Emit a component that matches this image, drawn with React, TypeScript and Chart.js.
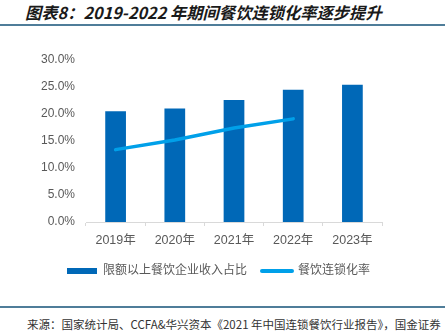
import React, { useEffect, useRef } from "react";
import { Chart, registerables } from "chart.js";

Chart.register(...registerables);

const categories = ["2019年", "2020年", "2021年", "2022年", "2023年"];
const barSeriesName = "限额以上餐饮企业收入占比";
const lineSeriesName = "餐饮连锁化率";
const barValues = [20.5, 21.0, 22.6, 24.5, 25.4];
const lineValues: (number | null)[] = [13.4, 15.2, 17.4, 19.1, null];
const yMin = 0;
const yMax = 30;
const yStep = 5;

const titleText = "图表8：2019-2022 年期间餐饮连锁化率逐步提升";
const sourceText = "来源：国家统计局、CCFA&华兴资本《2021 年中国连锁餐饮行业报告》，国金证券";

const BAR_COLOR = "#0068B7";
const LINE_COLOR = "#00A0E9";
const TEXT_COLOR = "#595959";
const AXIS_COLOR = "#D9D9D9";
const RULE_COLOR = "#4F7D99";
const FONT = "'Liberation Sans', 'Noto Sans CJK SC', sans-serif";

export default function App() {
  const canvasRef = useRef<HTMLCanvasElement | null>(null);

  useEffect(() => {
    if (!canvasRef.current) return;
    const chart = new Chart(canvasRef.current, {
      type: "bar",
      data: {
        labels: categories,
        datasets: [
          {
            type: "bar",
            label: barSeriesName,
            data: barValues,
            backgroundColor: BAR_COLOR,
            borderWidth: 0,
            barPercentage: 0.35,
            categoryPercentage: 1,
            order: 1,
          },
          {
            type: "line",
            label: lineSeriesName,
            data: lineValues,
            borderColor: LINE_COLOR,
            backgroundColor: LINE_COLOR,
            borderWidth: 3.5,
            borderCapStyle: "round",
            pointRadius: 0,
            pointHoverRadius: 0,
            tension: 0,
            spanGaps: false,
            order: 0,
          } as any,
        ],
      },
      options: {
        animation: false,
        responsive: false,
        maintainAspectRatio: false,
        layout: { padding: { top: 30, left: 0, right: 0, bottom: 10 } },
        plugins: {
          tooltip: { enabled: false },
          legend: {
            position: "bottom",
            labels: {
              usePointStyle: true,
              pointStyleWidth: 30,
              boxHeight: 6,
              padding: 15,
              color: TEXT_COLOR,
              font: { family: FONT, size: 12 },
              generateLabels: (c: any) => {
                const items = (Chart.defaults.plugins.legend.labels as any).generateLabels(c);
                items.forEach((it: any) => {
                  if (it.datasetIndex === 0) {
                    it.pointStyle = "rect";
                    it.lineWidth = 0;
                    it.fillStyle = BAR_COLOR;
                    it.strokeStyle = BAR_COLOR;
                  } else {
                    it.pointStyle = "line";
                    it.lineWidth = 4;
                    it.strokeStyle = LINE_COLOR;
                    it.fillStyle = LINE_COLOR;
                    it.lineCap = "round";
                  }
                });
                return items.sort((a: any, b: any) => a.datasetIndex - b.datasetIndex);
              },
            },
          },
        },
        scales: {
          x: {
            grid: {
              display: true,
              drawOnChartArea: false,
              drawTicks: true,
              tickLength: 4,
              color: AXIS_COLOR,
              offset: true,
            },
            border: { display: true, color: AXIS_COLOR, width: 1 },
            ticks: {
              color: TEXT_COLOR,
              font: { family: FONT, size: 12.5 },
              padding: 7.5,
              maxRotation: 0,
            },
            afterFit: (scale: any) => {
              scale.height = scale.height - 6;
            },
          },
          y: {
            min: yMin,
            max: yMax,
            grid: { display: false, drawTicks: false },
            border: { display: false },
            ticks: {
              stepSize: yStep,
              color: TEXT_COLOR,
              font: { family: FONT, size: 12 },
              padding: 11,
              callback: (v: any) => Number(v).toFixed(1) + "%",
            },
            afterFit: (scale: any) => {
              scale.width = 86;
            },
          },
          yPad: {
            position: "right",
            display: true,
            grid: { display: false, drawTicks: false },
            border: { display: false },
            ticks: { display: false },
            afterFit: (scale: any) => {
              scale.width = 55;
            },
          },
        },
      },
    });
    return () => chart.destroy();
  }, []);

  return (
    <div
      style={{
        position: "absolute",
        left: 0,
        top: 0,
        width: 445,
        height: 335,
        background: "#ffffff",
        overflow: "hidden",
      }}
    >
      <div
        style={{
          position: "absolute",
          left: 25,
          top: 2,
          height: 20,
          lineHeight: "20px",
          fontFamily: "'Noto Sans CJK SC', sans-serif",
          fontWeight: 700,
          fontStyle: "italic",
          fontSize: 16.3,
          color: "#1a1a1a",
          whiteSpace: "nowrap",
        }}
      >
        {titleText}
      </div>
      <div
        style={{
          position: "absolute",
          left: 0,
          top: 24,
          width: 445,
          height: 2,
          background: RULE_COLOR,
        }}
      />
      <canvas
        ref={canvasRef}
        width={437}
        height={267}
        style={{ position: "absolute", left: 0, top: 30, width: 437, height: 267 }}
      />
      <div
        style={{
          position: "absolute",
          left: 0,
          top: 306,
          width: 445,
          height: 2,
          background: RULE_COLOR,
        }}
      />
      <div
        style={{
          position: "absolute",
          left: 27,
          top: 316,
          height: 16,
          lineHeight: "16px",
          fontFamily: "'Noto Sans CJK SC', sans-serif",
          fontSize: 11.5,
          color: "#333333",
          whiteSpace: "nowrap",
        }}
      >
        {sourceText}
      </div>
    </div>
  );
}
